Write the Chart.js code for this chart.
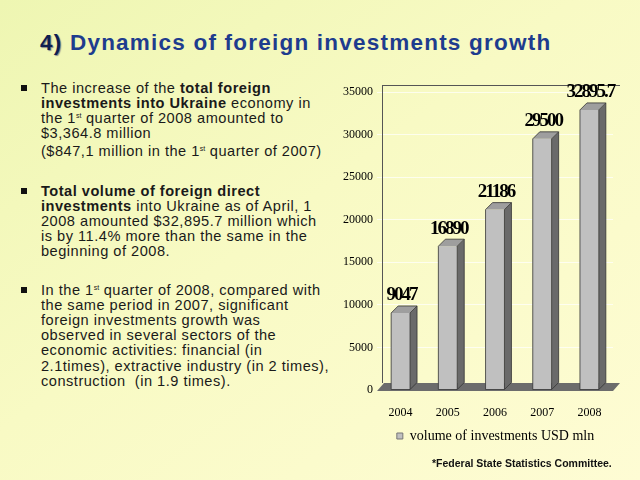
<!DOCTYPE html>
<html>
<head>
<meta charset="utf-8">
<script src="https://cdn.jsdelivr.net/npm/chart.js@4/dist/chart.umd.min.js"></script>
<style>
  html, body { margin:0; padding:0; }
  body { width:640px; height:480px; overflow:hidden; position:relative;
    background: linear-gradient(to bottom right, #eef6b2 0%, #f8fac4 45%, #fefcd4 100%);
    font-family: "Liberation Sans", Arial, sans-serif; }
  #title { position:absolute; left:40px; top:30px; font-size:22.5px; letter-spacing:1.22px; font-weight:bold; color:#1e3c8e; white-space:nowrap; }
  #title .num { color:#0f1f50; text-shadow: 1px 1px 1px #8a8a8a; }
  .p { position:absolute; left:41px; font-size:14.6px; line-height:15.2px; color:#1a1a1a; white-space:nowrap; letter-spacing:0.5px; }
  .p sup { font-size:7px; line-height:0; vertical-align: baseline; position:relative; top:-5px; letter-spacing:0; }
  .bul { position:absolute; left:21px; width:6px; height:6px; background:#111; }
  #chartbox { position:absolute; left:340px; top:75px; width:300px; height:385px; }
  #foot { position:absolute; left:432px; top:457px; font-size:10.5px; font-weight:bold; color:#111; white-space:nowrap; }
</style>
</head>
<body>
<div id="title"><span class="num">4)</span> Dynamics of foreign investments growth</div>

<div class="bul" style="top:85px"></div>
<div class="p" style="top:80.5px">The increase of the <b>total foreign</b><br><b>investments into Ukraine</b> economy in<br>the 1<sup>st</sup> quarter of 2008 amounted to<br>$3,364.8 million</div>
<div class="p" style="top:144px">($847,1 million in the 1<sup>st</sup> quarter of 2007)</div>

<div class="bul" style="top:188px"></div>
<div class="p" style="top:183.5px"><b>Total volume of foreign direct</b><br><b>investments</b> into Ukraine as of April, 1<br>2008 amounted $32,895.7 million which<br>is by 11.4% more than the same in the<br>beginning of 2008.</div>

<div class="bul" style="top:287px"></div>
<div class="p" style="top:282.5px">In the 1<sup>st</sup> quarter of 2008, compared with<br>the same period in 2007, significant<br>foreign investments growth was<br>observed in several sectors of the<br>economic activities: financial (in<br>2.1times), extractive industry (in 2 times),<br>construction&nbsp; (in 1.9 times).</div>

<div id="chartbox"><canvas id="c" width="300" height="385"></canvas></div>
<div id="foot">*Federal State Statistics Committee.</div>

<script>
const categories = ["2004", "2005", "2006", "2007", "2008"];
const investments = [9047, 16890, 21186, 29500, 32895.7];
const valueLabels = ["9047", "16890", "21186", "29500", "32895.7"];
const seriesName = "volume of investments USD mln";
const yTicks = [0, 5000, 10000, 15000, 20000, 25000, 30000, 35000];

const SERIF = "'Liberation Serif', 'Times New Roman', serif";
const DX = 7, DY = 7;

const threeD = {
  id: 'threeD',
  afterLayout(chart) {
    if (chart.legend) { chart.legend.left += 19; chart.legend.right += 19; }
  },
  beforeDatasetsDraw(chart) {
    const { ctx, chartArea: a } = chart;
    ctx.save();
    ctx.strokeStyle = '#555';
    ctx.lineWidth = 1;
    ctx.beginPath();
    ctx.moveTo(a.left + DX - 1, a.top - DY + 0.5);
    ctx.lineTo(a.right + DX, a.top - DY + 0.5);
    ctx.stroke();
    ctx.beginPath();
    ctx.moveTo(a.left + DX - 1.5, a.top - DY);
    ctx.lineTo(a.left + DX - 1.5, a.bottom - DY);
    ctx.stroke();
    ctx.fillStyle = '#6c6c6c';
    ctx.beginPath();
    ctx.moveTo(a.left, a.bottom + 1);
    ctx.lineTo(a.right, a.bottom + 1);
    ctx.lineTo(a.right + DX, a.bottom - DY);
    ctx.lineTo(a.left + DX, a.bottom - DY);
    ctx.closePath();
    ctx.fill();
    ctx.restore();
  },
  afterDatasetsDraw(chart) {
    const { ctx } = chart;
    const meta = chart.getDatasetMeta(0);
    ctx.save();
    meta.data.forEach((bar, i) => {
      const w = bar.width;
      const l = bar.x - w / 2, r = bar.x + w / 2, t = bar.y, b = bar.base;
      ctx.fillStyle = '#6a6a6a';
      ctx.beginPath();
      ctx.moveTo(r, b); ctx.lineTo(r + DX, b - DY); ctx.lineTo(r + DX, t - DY); ctx.lineTo(r, t);
      ctx.closePath(); ctx.fill();
      ctx.fillStyle = '#9e9e9e';
      ctx.beginPath();
      ctx.moveTo(l, t); ctx.lineTo(l + DX, t - DY); ctx.lineTo(r + DX, t - DY); ctx.lineTo(r, t);
      ctx.closePath(); ctx.fill();
      ctx.strokeStyle = '#333';
      ctx.lineWidth = 0.8;
      ctx.beginPath();
      ctx.moveTo(l, b); ctx.lineTo(l, t); ctx.lineTo(l + DX, t - DY); ctx.lineTo(r + DX, t - DY);
      ctx.lineTo(r + DX, b - DY); ctx.lineTo(r, b); ctx.closePath();
      ctx.moveTo(r, t); ctx.lineTo(r, b);
      ctx.moveTo(r, t); ctx.lineTo(r + DX, t - DY);
      ctx.stroke();
      ctx.fillStyle = '#000';
      ctx.font = "bold 19px " + SERIF;
      ctx.textAlign = 'center';
      ctx.textBaseline = 'bottom';
      ctx.letterSpacing = '-2px';
      ctx.fillText(valueLabels[i], bar.x + 1, t - DY - 1);
    });
    ctx.restore();
  }
};

new Chart(document.getElementById('c'), {
  type: 'bar',
  data: {
    labels: categories,
    datasets: [{
      label: seriesName,
      data: investments,
      backgroundColor: '#c0c0c0',
      borderWidth: 0,
      categoryPercentage: 1.0,
      barPercentage: 0.4
    }]
  },
  options: {
    responsive: false,
    animation: false,
    layout: { padding: { top: 17, right: 27, bottom: 7, left: 0 } },
    plugins: {
      legend: {
        position: 'bottom',
        labels: {
          boxWidth: 6, boxHeight: 6, color: '#000', padding: 10,
          font: { size: 14, family: SERIF },
          generateLabels(chart) {
            return [{ text: seriesName, fillStyle: '#c0c0c0', strokeStyle: '#777', lineWidth: 1, datasetIndex: 0 }];
          }
        },
        onClick: null
      },
      tooltip: { enabled: false }
    },
    scales: {
      x: {
        grid: { display: false },
        border: { display: false },
        ticks: { color: '#000', font: { size: 12, family: SERIF }, padding: 8 },
        afterFit(s) { s.height = 29; }
      },
      y: {
        min: 0, max: 35000,
        afterBuildTicks(s) { s.ticks = yTicks.map(v => ({ value: v })); },
        grid: { color: 'rgba(255,255,255,0.7)', drawTicks: false },
        border: { display: false },
        ticks: { color: '#000', font: { size: 12, family: SERIF }, padding: 4, callback: v => String(v) },
        afterFit(s) { s.width = 37; }
      }
    }
  },
  plugins: [threeD]
});
</script>
</body>
</html>
